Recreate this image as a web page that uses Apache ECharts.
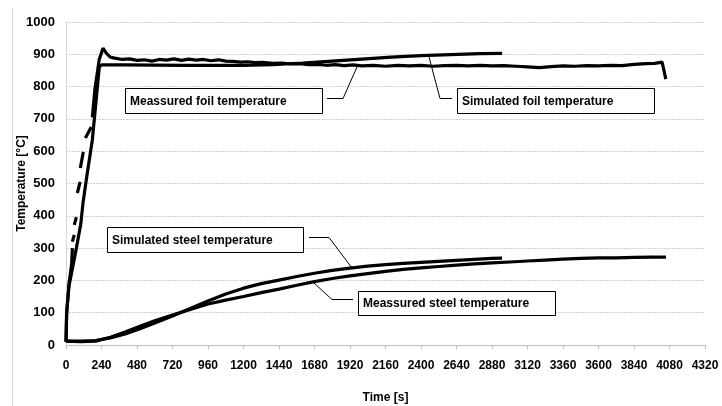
<!DOCTYPE html>
<html>
<head>
<meta charset="utf-8">
<script src="https://cdn.jsdelivr.net/npm/echarts@6/dist/echarts.min.js"></script>
<style>html,body{margin:0;padding:0;background:#fff}#c{width:722px;height:406px}</style>
</head>
<body>
<div id="c"></div>
<script>
// Time [s], Temperature [°C]
const simFoil = [[0,10],[4,100],[20,182],[45,240],[70,300],[100,375],[115,440],[140,520],[178,635],[200,740],[225,860],[240,867],[400,867],[800,866],[1200,866],[1400,868],[1600,873],[1800,879],[2000,885],[2200,891],[2400,896],[2600,899],[2800,902],[2948,903]];
const measFoil = [[0,10],[5,100],[20,188],[38,250],[43,300],null,[43,320],[56,341],null,[56,372],[70,396],null,[77,470],[95,505],null,[97,548],[117,598],null,[131,641],[171,675],null,[178,705],[195,790],[225,885],[250,919],[275,902],[300,891],[330,888],[380,884],[430,886],[480,881],[530,883],[580,879],[630,884],[680,882],[730,886],[780,881],[830,885],[880,882],[930,884],[980,880],[1030,883],[1080,879],[1130,878],[1180,876],[1230,877],[1280,874],[1330,875],[1400,872],[1460,873],[1520,870],[1580,871],[1640,868],[1700,869],[1760,866],[1820,868],[1880,865],[1940,867],[2000,864],[2080,866],[2160,863],[2240,866],[2320,864],[2400,866],[2480,863],[2560,865],[2640,866],[2720,864],[2800,866],[2880,864],[2960,865],[3040,863],[3120,861],[3200,859],[3280,862],[3360,864],[3440,863],[3520,865],[3600,864],[3680,866],[3760,865],[3840,869],[3920,871],[3980,872],[4030,876],[4045,845],[4055,823]];
const simSteel = [[0,12],[100,12],[200,14],[300,22],[400,34],[500,50],[600,68],[720,90],[840,113],[960,136],[1080,158],[1200,176],[1320,190],[1440,201],[1560,212],[1680,222],[1800,231],[1920,238],[2040,244],[2160,249],[2280,253],[2400,256],[2520,259],[2640,262],[2760,265],[2880,268],[2948,269]];
const measSteel = [[0,12],[100,10],[200,12],[300,24],[400,40],[500,58],[600,75],[720,93],[840,110],[960,127],[1080,139],[1200,150],[1320,162],[1440,173],[1560,185],[1680,196],[1800,206],[1920,214],[2040,221],[2160,228],[2280,234],[2400,239],[2520,243],[2640,247],[2760,251],[2880,254],[3000,257],[3120,260],[3240,263],[3360,266],[3480,268],[3600,270],[3720,270],[3840,271],[3960,272],[4056,272]];
const labels = ['Meassured foil temperature','Simulated foil temperature','Simulated steel temperature','Meassured steel temperature'];
const xTicks = {min:0, max:4320, interval:240};
const yTicks = {min:0, max:1000, interval:100};

const FONT = '"Liberation Sans", Arial, sans-serif';
const chart = echarts.init(document.getElementById('c'), null, {renderer:'canvas'});

function box(x, y, w, h, text, pts){
  return [
    {type:'rect', shape:{x:x+0.5, y:y+0.5, width:w, height:h}, style:{fill:'#fff', stroke:'#000', lineWidth:1}, z:100},
    {type:'text', x:x+5, y:y+h/2+1, style:{text:text, font:'bold 12px '+FONT, fill:'#000', verticalAlign:'middle'}, z:101},
    {type:'polyline', shape:{points:pts}, style:{stroke:'#000', lineWidth:1, fill:null}, z:100}
  ];
}

const lineStyle = {color:'#000', width:3.2};
const mk = (name, data) => ({type:'line', name, data, showSymbol:false, symbol:'none', connectNulls:false, lineStyle, itemStyle:{color:'#000'}, animation:false, z:10});
const plain = v => String(v);

chart.setOption({
  animation:false,
  backgroundColor:'#fff',
  grid:{left:66, right:17, top:22, bottom:61, containLabel:false, outerBoundsMode:'none'},
  xAxis:{type:'value', min:xTicks.min, max:xTicks.max, interval:xTicks.interval,
    name:'Time [s]', nameLocation:'middle', nameGap:47, nameMoveOverlap:false,
    nameTextStyle:{fontFamily:FONT, fontWeight:'bold', fontSize:12, color:'#000'},
    axisLine:{show:true, lineStyle:{color:'#bfbfbf', width:1}},
    axisTick:{show:true, length:4, inside:false, lineStyle:{color:'#bfbfbf'}},
    axisLabel:{fontFamily:FONT, fontWeight:'bold', fontSize:12, color:'#000', margin:15, formatter:plain},
    splitLine:{show:false}},
  yAxis:{type:'value', min:yTicks.min, max:yTicks.max, interval:yTicks.interval,
    name:'Temperature [°C]', nameLocation:'middle', nameGap:38, nameMoveOverlap:false,
    nameTextStyle:{fontFamily:FONT, fontWeight:'bold', fontSize:12, color:'#000'},
    axisLine:{show:true, lineStyle:{color:'#d9d9d9', width:1}},
    axisTick:{show:false},
    axisLabel:{fontFamily:FONT, fontWeight:'bold', fontSize:13, color:'#000', margin:11, formatter:plain},
    splitLine:{show:true, lineStyle:{color:'#d0d0d0', type:[2,1], width:1}}},
  series:[
    mk(labels[1], simFoil),
    mk(labels[0], measFoil),
    mk(labels[2], simSteel),
    mk(labels[3], measSteel)
  ],
  graphic:[
    {type:'line', shape:{x1:12.5, y1:8, x2:12.5, y2:406}, style:{stroke:'#d9d9d9', lineWidth:1}},
    ...box(125, 88, 197, 25, labels[0], [[327,98.5],[343,98.5],[357,67]]),
    ...box(457, 88, 197, 25, labels[1], [[452,98.5],[440,98.5],[429,57]]),
    ...box(107, 227, 196, 25, labels[2], [[309,237.5],[329,237.5],[352,268]]),
    ...box(358, 291, 197, 24, labels[3], [[353,299.5],[332,299.5],[314,283]])
  ]
});
</script>
</body>
</html>
